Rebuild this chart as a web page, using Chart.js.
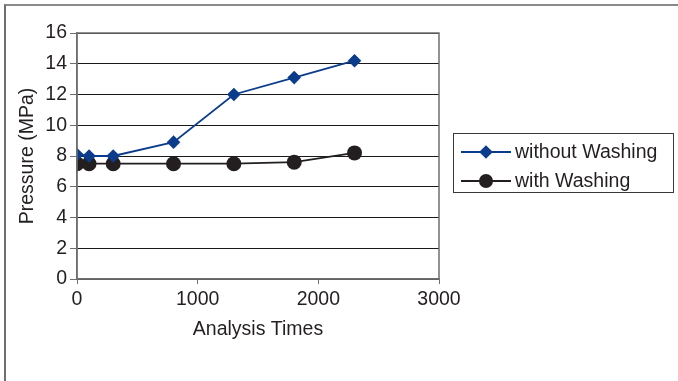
<!DOCTYPE html>
<html>
<head>
<meta charset="utf-8">
<script src="https://cdn.jsdelivr.net/npm/chart.js@4/dist/chart.umd.min.js"></script>
<style>
  html, body { margin: 0; padding: 0; background: #fff; }
  #wrap { position: relative; width: 678px; height: 381px; overflow: hidden; }
  #frame { position: absolute; left: 4px; top: 4px; width: 700px; height: 400px;
           border-top: 2px solid #8a8a8a; border-left: 2px solid #6e6e6e; box-sizing: border-box; }
  canvas { position: absolute; left: 0; top: 0; }
</style>
</head>
<body>
<div id="wrap">
  <div id="frame"></div>
  <canvas id="c" width="678" height="381"></canvas>
</div>
<script>
// ---- data ----
const analysisTimes = [0, 100, 300, 800, 1300, 1800, 2300];
const withoutWashing = [8.1, 8.0, 8.0, 8.9, 12.0, 13.1, 14.2];
const withWashing = [7.5, 7.5, 7.5, 7.5, 7.5, 7.6, 8.2];
const seriesNames = ['without Washing', 'with Washing'];
const xTitle = 'Analysis Times';
const yTitle = 'Pressure (MPa)';

const FONT = "'Liberation Sans', Arial, sans-serif";
const FS = 19.5;
const TEXT = '#231f20';
const BLUE = '#0b3c8c';

function toPoints(xs, ys) { return xs.map((x, i) => ({ x: x, y: ys[i] })); }

const plotBorder = {
  id: 'plotBorder',
  afterDatasetsDraw(chart) {
    const a = chart.chartArea, ctx = chart.ctx;
    ctx.save();
    ctx.strokeStyle = '#6f6f6f';
    ctx.lineWidth = 1.5;
    ctx.strokeRect(a.left, a.top, a.right - a.left, a.bottom - a.top);
    ctx.restore();
  }
};

const customLegend = {
  id: 'customLegend',
  afterDraw(chart) {
    const ctx = chart.ctx;
    const bx = 453.5, by = 133.5, bw = 220, bh = 59;
    ctx.save();
    ctx.strokeStyle = '#3a3a3a';
    ctx.lineWidth = 1;
    ctx.strokeRect(bx, by, bw, bh);
    const rows = [152, 181];
    chart.data.datasets.forEach((ds, i) => {
      const y = rows[i];
      ctx.strokeStyle = ds.borderColor;
      ctx.lineWidth = ds.borderWidth;
      ctx.beginPath();
      ctx.moveTo(461, y);
      ctx.lineTo(511, y);
      ctx.stroke();
      ctx.fillStyle = ds.pointBackgroundColor;
      ctx.beginPath();
      if (ds.pointStyle === 'rectRot') {
        const r = ds.pointRadius;
        ctx.moveTo(486 - r, y); ctx.lineTo(486, y - r); ctx.lineTo(486 + r, y); ctx.lineTo(486, y + r);
        ctx.closePath();
      } else {
        ctx.arc(486, y, ds.pointRadius - 0.5, 0, Math.PI * 2);
      }
      ctx.fill();
      ctx.fillStyle = TEXT;
      ctx.font = FS + 'px ' + FONT;
      ctx.textBaseline = 'middle';
      ctx.textAlign = 'left';
      ctx.fillText(ds.label, 515, y + 1);
    });
    ctx.restore();
  }
};

new Chart(document.getElementById('c'), {
  type: 'line',
  data: {
    datasets: [
      {
        label: seriesNames[0],
        data: toPoints(analysisTimes, withoutWashing),
        borderColor: BLUE, backgroundColor: BLUE,
        pointBackgroundColor: BLUE, pointBorderColor: BLUE,
        pointStyle: 'rectRot', pointRadius: 6.8, pointBorderWidth: 0,
        borderWidth: 1.8, tension: 0
      },
      {
        label: seriesNames[1],
        data: toPoints(analysisTimes, withWashing),
        borderColor: TEXT, backgroundColor: TEXT,
        pointBackgroundColor: TEXT, pointBorderColor: TEXT,
        pointStyle: 'circle', pointRadius: 7.5, pointBorderWidth: 0,
        borderWidth: 1.8, tension: 0
      }
    ]
  },
  options: {
    responsive: false,
    animation: false,
    devicePixelRatio: 1,
    layout: { padding: { left: 5, top: 33, right: 239, bottom: 40 } },
    plugins: { legend: { display: false }, tooltip: { enabled: false } },
    scales: {
      x: {
        type: 'linear', min: 0, max: 3000,
        ticks: { stepSize: 1000, color: TEXT, font: { family: FONT, size: FS }, padding: 4, maxRotation: 0,
                 callback: (v) => String(v) },
        grid: { drawOnChartArea: false, color: '#6f6f6f', tickLength: 5 },
        border: { color: '#6f6f6f', width: 1.5 },
        title: { display: true, text: xTitle, color: TEXT, font: { family: FONT, size: FS }, padding: { top: 0, bottom: 0 } },
        afterFit(s) { s.height = 62; }
      },
      y: {
        min: 0, max: 16,
        ticks: { stepSize: 2, color: TEXT, font: { family: FONT, size: FS }, padding: 3 },
        grid: { color: '#1a1a1a', lineWidth: 1, tickLength: 7, tickColor: '#6f6f6f' },
        border: { color: '#6f6f6f', width: 1.5 },
        title: { display: true, text: yTitle, color: TEXT, font: { family: FONT, size: FS }, padding: { top: 11, bottom: 0 } },
        afterFit(s) { s.width = 72; }
      }
    }
  },
  plugins: [plotBorder, customLegend]
});
</script>
</body>
</html>
